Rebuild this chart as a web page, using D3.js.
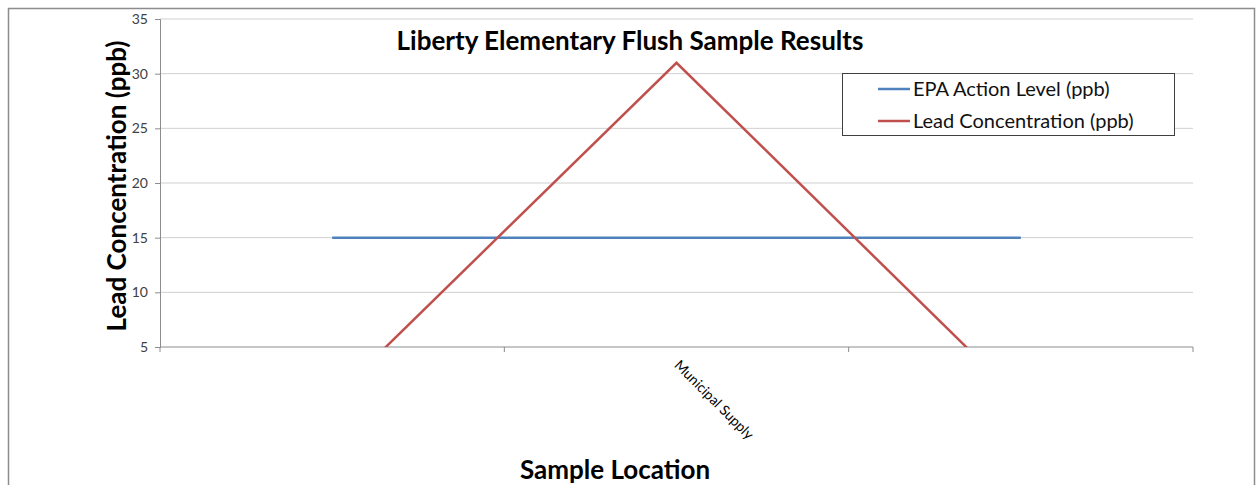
<!DOCTYPE html>
<html lang="en">
<head>
  <meta charset="UTF-8">
  <title>Liberty Elementary Flush Sample Results</title>
  <script src="https://d3js.org/d3.v7.min.js"></script>
  <style>
    body { margin: 0; background: #fff; }
    svg text { font-family: Lato, "Open Sans", sans-serif; }
    .tick text { fill: #404040; }
  </style>
</head>
<body>
  <div id="chart"></div>
  <script>
    // sample locations (only the middle one has a name)
    const categories = ['', 'Municipal Supply', '']
    const epaLevel = [15, 15, 15]
    const leadConc = [0.2, 31, 0.1]
    const yTicks = [5, 10, 15, 20, 25, 30, 35]

    const width = 1260
    const height = 485
    const margin = { top: 19, right: 67, bottom: 138, left: 160 }
    const plotW = width - margin.left - margin.right
    const plotH = height - margin.top - margin.bottom

    const svg = d3.select('#chart').append('svg')
      .attr('width', width)
      .attr('height', height)

    // outer chart frame
    svg.append('rect')
      .attr('x', 8.5).attr('y', 8.5)
      .attr('width', 1246).attr('height', 500)
      .attr('fill', 'none')
      .attr('stroke', '#8c8c8c')
      .attr('stroke-width', 1.5)

    const g = svg.append('g')
      .attr('transform', `translate(${margin.left},${margin.top})`)

    const idx = categories.map((d, i) => i)
    const x = d3.scaleBand().domain(idx).range([0, plotW])
    const y = d3.scaleLinear().domain([5, 35]).range([plotH, 0])

    // gridlines
    g.append('g')
      .selectAll('line')
      .data(yTicks.slice(1))
      .enter().append('line')
      .attr('x1', 0).attr('x2', plotW)
      .attr('y1', d => y(d)).attr('y2', d => y(d))
      .attr('stroke', '#cfcfcf')
      .attr('stroke-width', 1)

    // y axis
    const yAxis = g.append('g')
      .call(d3.axisLeft(y).tickValues(yTicks).tickSize(5).tickPadding(7))
    yAxis.select('.domain').attr('stroke', '#8c8c8c')
    yAxis.selectAll('.tick line').attr('stroke', '#8c8c8c')
    yAxis.selectAll('.tick text').attr('font-size', 14)

    // x axis: ticks on category boundaries
    const xAxis = g.append('g')
      .attr('transform', `translate(0,${plotH})`)
    xAxis.append('line')
      .attr('x1', 0).attr('x2', plotW)
      .attr('stroke', '#8c8c8c')
    const bounds = idx.map(i => x(i)).concat([plotW])
    xAxis.selectAll('.xtick')
      .data(bounds)
      .enter().append('line')
      .attr('class', 'xtick')
      .attr('x1', d => d).attr('x2', d => d)
      .attr('y1', 0).attr('y2', 5)
      .attr('stroke', '#8c8c8c')
    xAxis.selectAll('.xlabel')
      .data(idx)
      .enter().append('text')
      .attr('class', 'xlabel')
      .attr('transform', i => `translate(${x(i) + x.bandwidth() / 2 - 3},${19}) rotate(45)`)
      .attr('font-size', 14)
      .attr('fill', '#000')
      .text(i => categories[i])

    // lines, clipped to the plot area
    g.append('clipPath').attr('id', 'clip')
      .append('rect').attr('width', plotW).attr('height', plotH)

    const line = d3.line()
      .x((d, i) => x(i) + x.bandwidth() / 2)
      .y(d => y(d))

    const lines = g.append('g').attr('clip-path', 'url(#clip)')
    lines.append('path')
      .datum(epaLevel)
      .attr('d', line)
      .attr('fill', 'none')
      .attr('stroke', '#4f81bd')
      .attr('stroke-width', 2.5)
    lines.append('path')
      .datum(leadConc)
      .attr('d', line)
      .attr('fill', 'none')
      .attr('stroke', '#c0504d')
      .attr('stroke-width', 2.5)

    // title
    svg.append('text')
      .attr('x', 630).attr('y', 50)
      .attr('text-anchor', 'middle')
      .attr('font-size', 26)
      .attr('font-weight', 'bold')
      .text('Liberty Elementary Flush Sample Results')

    // axis titles
    svg.append('text')
      .attr('transform', `translate(126,${margin.top + plotH / 2 + 3}) rotate(-90)`)
      .attr('text-anchor', 'middle')
      .attr('font-size', 26)
      .attr('font-weight', 'bold')
      .text('Lead Concentration (ppb)')
    svg.append('text')
      .attr('x', 615).attr('y', 479)
      .attr('text-anchor', 'middle')
      .attr('font-size', 26)
      .attr('font-weight', 'bold')
      .text('Sample Location')

    // legend
    const legend = svg.append('g').attr('transform', 'translate(842,73)')
    legend.append('rect')
      .attr('x', 0.5).attr('y', 0.5)
      .attr('width', 332).attr('height', 62)
      .attr('fill', '#fff')
      .attr('stroke', '#404040')
    const items = [
      { name: 'EPA Action Level (ppb)', color: '#4f81bd' },
      { name: 'Lead Concentration (ppb)', color: '#c0504d' }
    ]
    items.forEach((d, i) => {
      legend.append('line')
        .attr('x1', 36).attr('x2', 68)
        .attr('y1', 16 + i * 32).attr('y2', 16 + i * 32)
        .attr('stroke', d.color)
        .attr('stroke-width', 2.5)
      legend.append('text')
        .attr('x', 71).attr('y', 23 + i * 32)
        .attr('font-size', 20)
        .attr('fill', '#111')
        .text(d.name)
    })
  </script>
</body>
</html>
